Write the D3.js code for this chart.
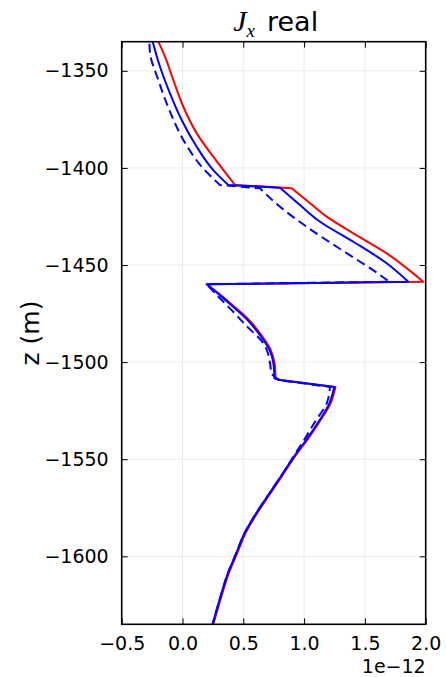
<!DOCTYPE html>
<html>
<head>
<meta charset="utf-8">
<script src="https://cdn.jsdelivr.net/npm/d3@7"></script>
<style>
  body { margin: 0; background: #fff; }
  svg { display: block; font-family: "DejaVu Sans", sans-serif; }
</style>
</head>
<body>
<div id="container"></div>
<script>
// values in units of 1e-12, depth z in metres
const redZ = [-1335, -1342.7, -1354.7, -1368.5, -1382.2, -1394.2, -1408.8, -1410.5, -1418.2, -1425.1, -1433.7, -1444, -1458.6,
  -1459.9, -1464.6, -1470.6, -1478.3, -1486.9, -1493.8, -1500.6, -1508.3, -1509.2, -1512.8,
  -1521.2, -1529.8, -1540.1, -1546.9, -1557.2, -1567.5, -1577.8, -1588.1, -1598.4, -1608.7, -1622.4, -1635];
const redX = [-0.199, -0.144, -0.076, 0.007, 0.117, 0.253, 0.432, 0.898, 1.049, 1.186, 1.405, 1.679, 1.98,
  0.199, 0.297, 0.41, 0.547, 0.657, 0.726, 0.757, 0.766, 0.806, 1.258,
  1.218, 1.136, 1.026, 0.944, 0.834, 0.724, 0.614, 0.518, 0.45, 0.381, 0.312, 0.254];
const redKinks = [6, 7, 12, 13, 20, 21, 22];

const blueZ = [-1335, -1347.9, -1361.6, -1375.3, -1389.1, -1401.1, -1408.8, -1410.2, -1419.1, -1427.7, -1438, -1449.1, -1458.6,
  -1459.9, -1464.6, -1470.6, -1478.3, -1486.9, -1493.8, -1500.6, -1508.3, -1509.2, -1512.8,
  -1521.2, -1529.8, -1540.1, -1546.9, -1557.2, -1567.5, -1577.8, -1588.1, -1598.4, -1608.7, -1622.4, -1635];
const blueX = [-0.245, -0.185, -0.103, -0.007, 0.117, 0.253, 0.377, 0.802, 0.966, 1.131, 1.405, 1.679, 1.857,
  0.199, 0.29, 0.4, 0.535, 0.646, 0.716, 0.748, 0.756, 0.798, 1.248,
  1.208, 1.128, 1.017, 0.936, 0.826, 0.716, 0.606, 0.51, 0.442, 0.373, 0.305, 0.247];
const blueKinks = [6, 7, 12, 13, 20, 21, 22];

const dashZ = [-1336, -1341, -1354.7, -1371, -1385.6, -1399.4, -1408.8, -1410.5, -1420, -1430.3, -1440.6, -1448.3, -1455.1, -1458.6,
  -1459.9, -1466, -1472.3, -1481, -1490.3, -1500.6, -1505.8, -1509.2, -1512.8,
  -1521.2, -1530.7, -1540.1, -1546.9, -1557.2, -1567.5, -1577.8, -1588.1, -1598.4, -1608.7, -1622.4, -1635];
const dashX = [-0.272, -0.267, -0.199, -0.103, 0.007, 0.158, 0.308, 0.637, 0.802, 1.021, 1.268, 1.46, 1.624, 1.70,
  0.199, 0.29, 0.39, 0.52, 0.665, 0.72, 0.728, 0.79, 1.213,
  1.186, 1.09, 1.0, 0.93, 0.825, 0.715, 0.606, 0.51, 0.442, 0.373, 0.305, 0.247];
const dashKinks = [6, 7, 13, 14, 20, 21, 22];

const xTicks = [-0.5, 0.0, 0.5, 1.0, 1.5, 2.0];
const zTicks = [-1350, -1400, -1450, -1500, -1550, -1600];

const W = 446, H = 677;
const margin = {top: 41.7, right: 20.3, bottom: 52.7, left: 121.7};

const svg = d3.select("#container").append("svg")
  .attr("width", W)
  .attr("height", H);

const x = d3.scaleLinear().domain([-0.5, 2.0]).range([margin.left, W - margin.right]);
const y = d3.scaleLinear().domain([-1335, -1635]).range([margin.top, H - margin.bottom]);

const fmtX = d => d3.format(".1f")(d).replace("-", "\u2212");
const fmtZ = d => String(d).replace("-", "\u2212");

// grid
svg.append("g").selectAll("line").data(xTicks).join("line")
  .attr("x1", d => x(d)).attr("x2", d => x(d))
  .attr("y1", y.range()[0]).attr("y2", y.range()[1])
  .attr("stroke", "#ebebeb").attr("stroke-width", 1);
svg.append("g").selectAll("line").data(zTicks).join("line")
  .attr("y1", d => y(d)).attr("y2", d => y(d))
  .attr("x1", x.range()[0]).attr("x2", x.range()[1])
  .attr("stroke", "#ebebeb").attr("stroke-width", 1);

// lines
svg.append("clipPath").attr("id", "clip").append("rect")
  .attr("x", x.range()[0]).attr("y", y.range()[0])
  .attr("width", x.range()[1] - x.range()[0])
  .attr("height", y.range()[1] - y.range()[0]);

const line = d3.line().x(d => x(d[0])).y(d => y(d[1])).curve(d3.curveMonotoneY);

// smooth between kinks, one continuous path so the dashes don't restart
function pathFor(xs, zs, kinks) {
  const pts = xs.map((v, i) => [v, zs[i]]);
  const cuts = [0, ...kinks, pts.length - 1];
  let d = "";
  for (let k = 0; k < cuts.length - 1; k++) {
    const seg = line(pts.slice(cuts[k], cuts[k + 1] + 1));
    d += k === 0 ? seg : seg.replace(/^M/, "L");
  }
  return d;
}

const series = [
  {xs: redX, zs: redZ, kinks: redKinks, color: "#ff0000", dash: null},
  {xs: blueX, zs: blueZ, kinks: blueKinks, color: "#0000ff", dash: null},
  {xs: dashX, zs: dashZ, kinks: dashKinks, color: "#0000ff", dash: "9,5"},
];
const plot = svg.append("g").attr("clip-path", "url(#clip)");
series.forEach(s => {
  plot.append("path")
    .attr("fill", "none")
    .attr("stroke", s.color)
    .attr("stroke-width", 2)
    .attr("stroke-dasharray", s.dash)
    .attr("stroke-linejoin", "round")
    .attr("d", pathFor(s.xs, s.zs, s.kinks));
});

// axes, ticks pointing inward on all sides
const tl = 6;
const styleText = g => g.selectAll("text").attr("font-size", 19).attr("font-family", "DejaVu Sans").attr("fill", "#000");
svg.append("g")
  .attr("transform", `translate(0,${y.range()[1]})`)
  .call(d3.axisBottom(x).tickValues(xTicks).tickFormat(fmtX).tickSizeInner(-tl).tickSizeOuter(0).tickPadding(12))
  .call(g => g.select(".domain").remove())
  .call(styleText);
svg.append("g")
  .attr("transform", `translate(0,${y.range()[0]})`)
  .call(d3.axisTop(x).tickValues(xTicks).tickFormat("").tickSizeInner(-tl).tickSizeOuter(0))
  .call(g => g.select(".domain").remove());
svg.append("g")
  .attr("transform", `translate(${x.range()[0]},0)`)
  .call(d3.axisLeft(y).tickValues(zTicks).tickFormat(fmtZ).tickSizeInner(-tl).tickSizeOuter(0).tickPadding(13))
  .call(g => g.select(".domain").remove())
  .call(styleText);
svg.append("g")
  .attr("transform", `translate(${x.range()[1]},0)`)
  .call(d3.axisRight(y).tickValues(zTicks).tickFormat("").tickSizeInner(-tl).tickSizeOuter(0))
  .call(g => g.select(".domain").remove());

svg.append("rect")
  .attr("x", x.range()[0]).attr("y", y.range()[0])
  .attr("width", x.range()[1] - x.range()[0])
  .attr("height", y.range()[1] - y.range()[0])
  .attr("fill", "none").attr("stroke", "#000").attr("stroke-width", 1.6);

// offset label
svg.append("text")
  .attr("x", x.range()[1]).attr("y", 673)
  .attr("text-anchor", "end")
  .attr("font-size", 19)
  .text("1e\u221212");

// y label
svg.append("text")
  .attr("transform", `translate(39,${(y.range()[0] + y.range()[1]) / 2}) rotate(-90)`)
  .attr("text-anchor", "middle")
  .attr("font-size", 25)
  .text("z (m)");

// title
const title = svg.append("text")
  .attr("x", (x.range()[0] + x.range()[1]) / 2 + 2)
  .attr("y", 31)
  .attr("text-anchor", "middle")
  .attr("font-size", 27);
title.append("tspan").attr("font-family", "Liberation Serif").attr("font-style", "italic").attr("font-size", 30).text("J");
title.append("tspan").attr("font-family", "Liberation Serif").attr("font-style", "italic")
  .attr("font-size", 19).attr("dy", 6).text("x");
title.append("tspan").attr("dy", -6).attr("dx", 12).text("real");
</script>
</body>
</html>
